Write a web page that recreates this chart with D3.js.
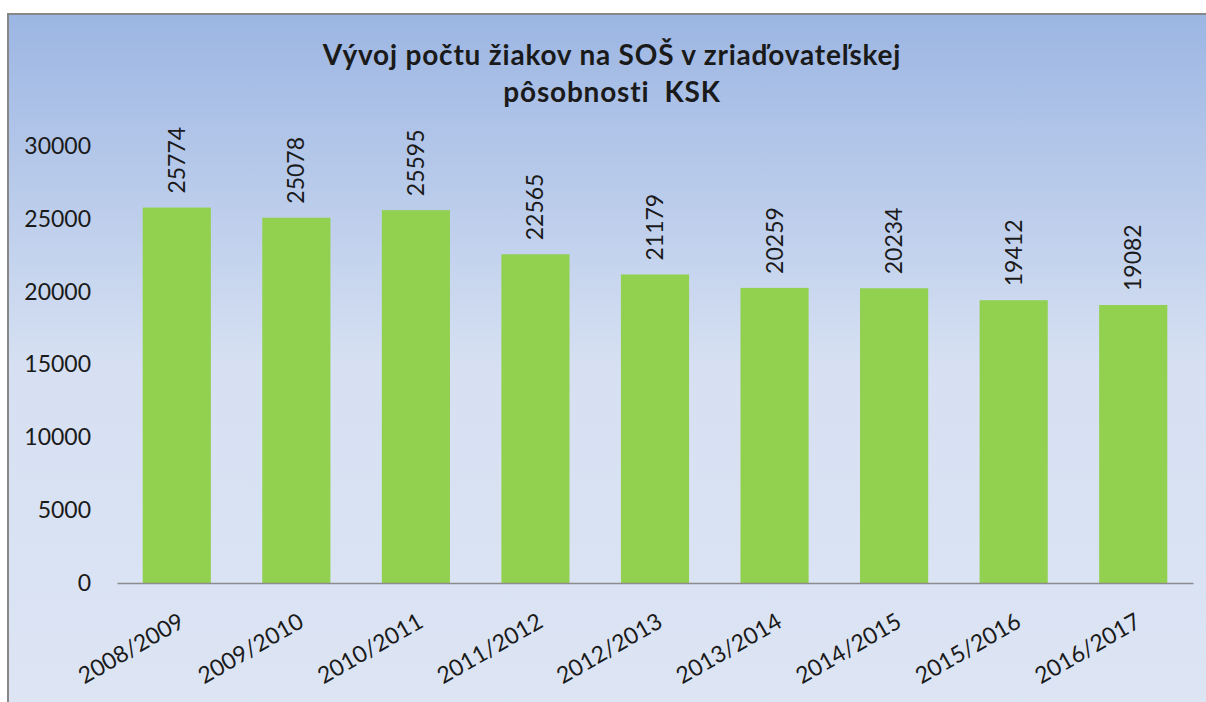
<!DOCTYPE html>
<html>
<head>
<meta charset="utf-8">
<script src="https://cdn.jsdelivr.net/npm/d3@7"></script>
<style>
  body { margin: 0; background: #fff; }
  svg text { font-family: Lato, "Open Sans", sans-serif; fill: #1a1a1a; }
</style>
</head>
<body>
<svg id="chart" width="1206" height="702"></svg>
<script>
// school years and pupil counts
var years = ["2008/2009", "2009/2010", "2010/2011", "2011/2012", "2012/2013",
             "2013/2014", "2014/2015", "2015/2016", "2016/2017"];
var pupils = [25774, 25078, 25595, 22565, 21179, 20259, 20234, 19412, 19082];
var yTicks = [0, 5000, 10000, 15000, 20000, 25000, 30000];
var titleLines = ["Vývoj počtu žiakov na SOŠ v zriaďovateľskej", "pôsobnosti  KSK"];

var svg = d3.select("#chart");

// background gradient
var defs = svg.append("defs");
var grad = defs.append("linearGradient").attr("id", "bg")
    .attr("x1", 0).attr("y1", 0).attr("x2", 0).attr("y2", 1);
grad.append("stop").attr("offset", "0%").attr("stop-color", "#9cb6e3");
grad.append("stop").attr("offset", "50%").attr("stop-color", "#d6e0f2");
grad.append("stop").attr("offset", "100%").attr("stop-color", "#dde5f4");

svg.append("rect")
    .attr("x", 8).attr("y", 14).attr("width", 1210).attr("height", 700)
    .attr("fill", "url(#bg)")
    .attr("stroke", "#878787").attr("stroke-width", 2);

var x0 = 117, x1 = 1193, yBase = 583, yTop = 146;

var x = d3.scaleBand().domain(years).range([x0, x1]).paddingInner(0.43).paddingOuter(0.215);
var y = d3.scaleLinear().domain([0, 30000]).range([yBase, yTop]);

// title
svg.append("g").selectAll("text").data(titleLines).enter().append("text")
    .attr("x", 612).attr("y", function(d, i) { return 65 + i * 37; })
    .attr("text-anchor", "middle")
    .style("font-size", "28px").style("font-weight", "bold")
    .style("letter-spacing", "0.8px")
    .style("white-space", "pre")
    .text(function(d) { return d; });

// y axis (labels only)
var yAxis = svg.append("g").attr("transform", "translate(" + (x0 - 16) + ",0)")
    .call(d3.axisLeft(y).tickValues(yTicks).tickSize(0).tickPadding(10).tickFormat(d3.format("d")));
yAxis.select(".domain").remove();
yAxis.selectAll("text").style("font-size", "23px").style("font-family", "Lato, 'Open Sans', sans-serif").attr("fill", "#1a1a1a");

// bars
svg.append("g").selectAll("rect").data(pupils).enter().append("rect")
    .attr("x", function(d, i) { return x(years[i]); })
    .attr("y", function(d) { return y(d); })
    .attr("width", x.bandwidth())
    .attr("height", function(d) { return yBase - y(d); })
    .attr("fill", "#92d050");

// value labels
svg.append("g").selectAll("text").data(pupils).enter().append("text")
    .attr("transform", function(d, i) {
        return "translate(" + (x(years[i]) + x.bandwidth() / 2 + 8) + "," + (y(d) - 14) + ") rotate(-90)";
    })
    .style("font-size", "23px")
    .text(function(d) { return d; });

// x axis
var xAxis = svg.append("g").attr("transform", "translate(0," + yBase + ")")
    .call(d3.axisBottom(x).tickSize(0).tickPadding(0));
xAxis.select(".domain").attr("stroke", "#8c8c8c").attr("stroke-width", 1.5);
xAxis.selectAll("text")
    .style("font-size", "23px").style("font-family", "Lato, 'Open Sans', sans-serif").attr("fill", "#1a1a1a")
    .attr("text-anchor", "end")
    .attr("dy", null).attr("y", 0)
    .attr("transform", "translate(9,43) rotate(-30)");
</script>
</body>
</html>
